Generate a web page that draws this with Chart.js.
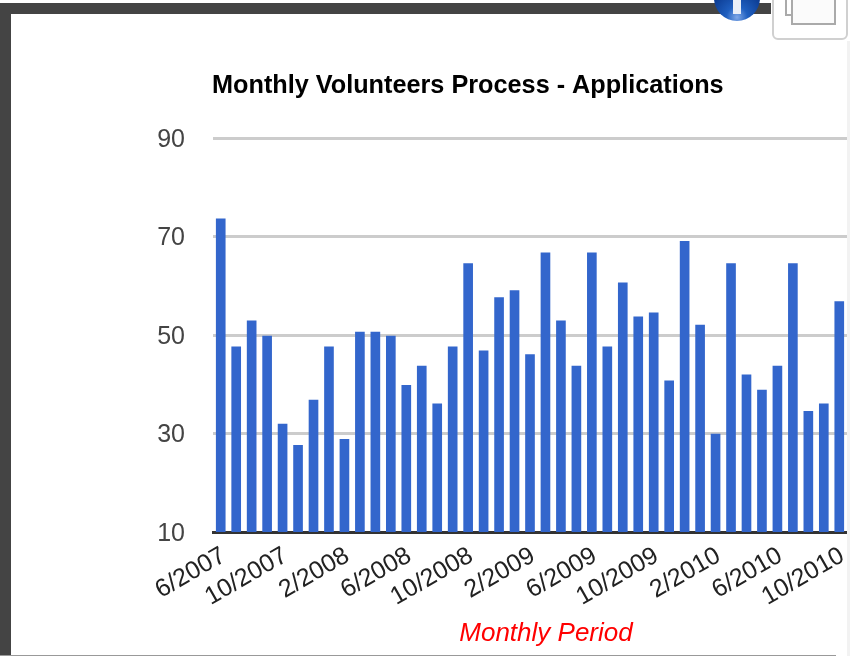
<!DOCTYPE html>
<html>
<head>
<meta charset="utf-8">
<script src="https://cdn.jsdelivr.net/npm/chart.js@4/dist/chart.umd.min.js"></script>
<style>
html,body{margin:0;padding:0;background:#fff;width:850px;height:656px;overflow:hidden}
#wrap{position:relative;width:850px;height:656px;overflow:hidden;font-family:"Liberation Sans",Arial,sans-serif}
canvas{position:absolute;left:0;top:0}
.d{position:absolute;box-sizing:border-box}
</style>
</head>
<body>
<div id="wrap">
  <div class="d" style="left:0;top:3px;width:771px;height:11px;background:#444"></div>
  <div class="d" style="left:0;top:3px;width:11px;height:653px;background:#444"></div>
  <div class="d" style="left:0;top:655px;width:836px;height:1px;background:#999"></div>
  <div class="d" style="left:714px;top:-25px;width:46px;height:46px;border-radius:50%;background:radial-gradient(circle at 50% 92%,#7fa8e8 0,#1f5fc0 22%,#0b3a90 60%,#0a2a6a 100%)"></div>
  <div class="d" style="left:733px;top:0;width:8px;height:14px;background:#e8eef8"></div>
  <div class="d" style="left:772px;top:-10px;width:76px;height:50px;background:#fff;border:2px solid #d0d0d0;border-radius:6px"></div>
  <div class="d" style="left:785px;top:-6px;width:42px;height:22px;background:#fff;border:2px solid #aaa"></div>
  <div class="d" style="left:791px;top:-6px;width:45px;height:31px;background:#fbfbfb;border:2px solid #aaa"></div>
  <canvas id="c" width="850" height="656"></canvas>
  <div class="d" style="left:847px;top:41px;width:3px;height:615px;background:#f2f2f2"></div>
</div>
<script>
const months = ["6/2007","7/2007","8/2007","9/2007","10/2007","11/2007","12/2007","1/2008","2/2008","3/2008","4/2008","5/2008","6/2008","7/2008","8/2008","9/2008","10/2008","11/2008","12/2008","1/2009","2/2009","3/2009","4/2009","5/2009","6/2009","7/2009","8/2009","9/2009","10/2009","11/2009","12/2009","1/2010","2/2010","3/2010","4/2010","5/2010","6/2010","7/2010","8/2010","9/2010","10/2010"];
const applications = [73.6,47.6,52.9,49.8,31.9,27.6,36.8,47.6,28.8,50.6,50.6,49.8,39.8,43.7,36,47.6,64.5,46.8,57.6,59,46,66.7,52.9,43.7,66.7,47.6,60.6,53.7,54.5,40.7,69,52,29.9,64.5,41.9,38.8,43.7,64.5,34.5,36,56.8];
const yTicks = [10,30,50,70,90];
const titleText = "Monthly Volunteers Process - Applications";
const xTitleText = "Monthly Period";

const textPlugin = {
  id:'textPlugin',
  afterDraw(chart){
    const g = chart.ctx;
    g.save();
    g.textBaseline = 'alphabetic';
    g.font = 'italic 26px "Liberation Sans"';
    g.fillStyle = '#ff0000';
    g.textAlign = 'center';
    g.fillText(xTitleText, 546, 641);
    g.font = 'bold 25.25px "Liberation Sans"';
    g.fillStyle = '#000';
    g.textAlign = 'left';
    g.fillText(titleText, 212, 93);
    g.restore();
  }
};

new Chart(document.getElementById('c'), {
  type:'bar',
  data:{labels:months, datasets:[{data:applications, backgroundColor:'#3366cc', barThickness:9, borderWidth:0}]},
  plugins:[textPlugin],
  options:{
    responsive:false, animation:false,
    layout:{padding:{left:0,right:0,top:138,bottom:0}},
    plugins:{legend:{display:false},tooltip:{enabled:false}},
    scales:{
      x:{
        grid:{display:false},
        border:{color:'#333',width:3},
        afterFit(s){s.height=656-532;s.paddingRight=3;s.paddingLeft=0;},
        ticks:{
          autoSkip:false,minRotation:30,maxRotation:30,padding:1,labelOffset:3,
          color:'#222',font:{family:'"Liberation Sans"',size:25},
          callback(v,i){return i%4===0?months[i]:'';}
        }
      },
      y:{
        min:10,max:90,
        afterFit(s){s.width=213;s.paddingTop=0;s.paddingBottom=0;},
        afterBuildTicks(s){s.ticks=yTicks.map(v=>({value:v}));},
        border:{display:false},
        grid:{color:'#cccccc',lineWidth:3,drawTicks:false},
        ticks:{
          padding:28,color:'#444',font:{family:'"Liberation Sans"',size:25,lineHeight:'4px'},
          callback(v){return ['',String(v)];}
        }
      }
    }
  }
});
</script>
</body>
</html>
